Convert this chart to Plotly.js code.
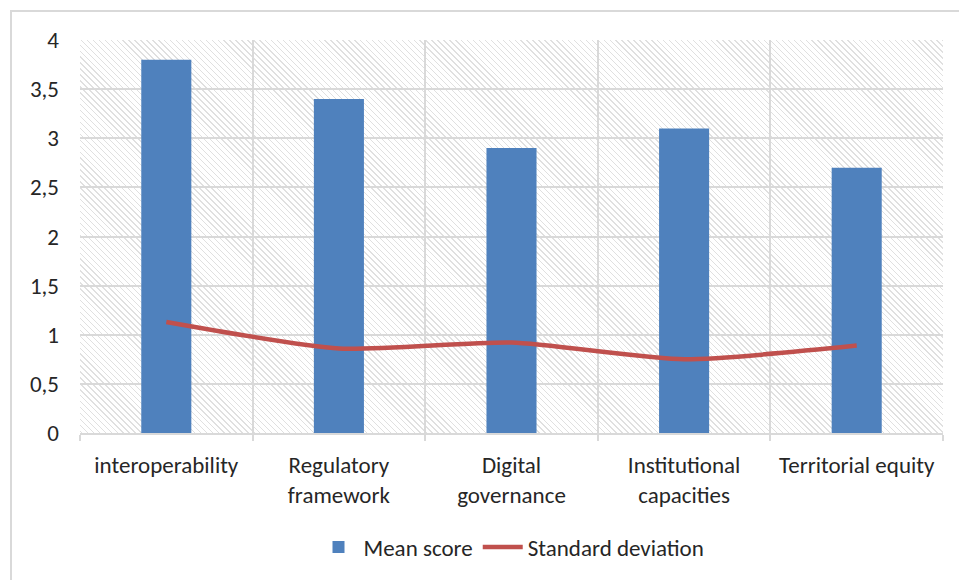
<!DOCTYPE html>
<html>
<head>
<meta charset="utf-8">
<script src="https://cdn.plot.ly/plotly-3.0.1.min.js"></script>
<style>
  html, body { margin: 0; padding: 0; background: #ffffff; }
  #wrap { position: relative; width: 959px; height: 580px; overflow: hidden; }
  #frame { position: absolute; left: 10px; top: 10px; width: 960px; height: 580px;
           border-left: 2px solid #d9d9d9; border-top: 2px solid #d9d9d9; box-sizing: border-box; }
  #hatch { position: absolute; left: 80px; top: 40px; width: 863px; height: 395px;
           background: repeating-linear-gradient(45deg, #ffffff 0px, #ffffff 2.4px, #e0e0e0 2.4px, #e0e0e0 3.4px, #ffffff 3.4px, #ffffff 4.2px); }
  #chart { position: absolute; left: 0; top: 0; width: 959px; height: 580px; }
</style>
</head>
<body>
<div id="wrap">
  <div id="frame"></div>
  <div id="hatch"></div>
  <div id="chart"></div>
</div>
<script>
const categories = ["interoperability", "Regulatory<br>framework", "Digital<br>governance", "Institutional<br>capacities", "Territorial equity"];
const meanScore = [3.8, 3.4, 2.9, 3.1, 2.7];
const standardDeviation = [1.13, 0.86, 0.92, 0.75, 0.89];
const yTickValues = [0, 0.5, 1, 1.5, 2, 2.5, 3, 3.5, 4];

const fontFamily = "Carlito, Calibri, Lato, 'Open Sans', sans-serif";
const fontSize = 23;

const traces = [
  {
    type: "bar",
    name: "Mean score",
    x: categories,
    y: meanScore,
    marker: { color: "#4f81bd" },
    hoverinfo: "skip"
  },
  {
    type: "scatter",
    mode: "lines",
    name: "Standard deviation",
    x: categories,
    y: standardDeviation,
    line: { color: "#c0504d", width: 4.5, shape: "spline", smoothing: 0.6 },
    hoverinfo: "skip"
  }
];

const layout = {
  width: 959,
  height: 580,
  margin: { l: 80, r: 16, t: 40, b: 145 },
  paper_bgcolor: "rgba(0,0,0,0)",
  plot_bgcolor: "rgba(0,0,0,0)",
  separators: ", ",
  bargap: 0.71,
  showlegend: true,
  font: { family: fontFamily, size: fontSize, color: "#262626" },
  xaxis: {
    type: "category",
    tickson: "boundaries",
    showgrid: true,
    gridcolor: "#d9d9d9",
    gridwidth: 2,
    ticks: "outside",
    ticklen: 6,
    tickcolor: "#d9d9d9",
    tickwidth: 2,
    showline: true,
    linecolor: "#d9d9d9",
    linewidth: 2,
    ticklabelstandoff: 10,
    tickfont: { family: fontFamily, size: fontSize, color: "#262626" },
    fixedrange: true
  },
  yaxis: {
    range: [0, 4],
    tickvals: yTickValues,
    tickformat: ".1~f",
    showgrid: true,
    gridcolor: "#d9d9d9",
    gridwidth: 2,
    zeroline: false,
    showline: false,
    ticks: "",
    ticklabelstandoff: 20,
    tickfont: { family: fontFamily, size: fontSize, color: "#262626" },
    fixedrange: true
  },
  legend: {
    orientation: "h",
    x: 0.5,
    xanchor: "center",
    y: -0.29,
    yanchor: "middle",
    font: { family: fontFamily, size: fontSize, color: "#262626" },
    itemwidth: 40,
    traceorder: "normal"
  }
};

Plotly.newPlot("chart", traces, layout, { displayModeBar: false, staticPlot: true });
</script>
</body>
</html>
